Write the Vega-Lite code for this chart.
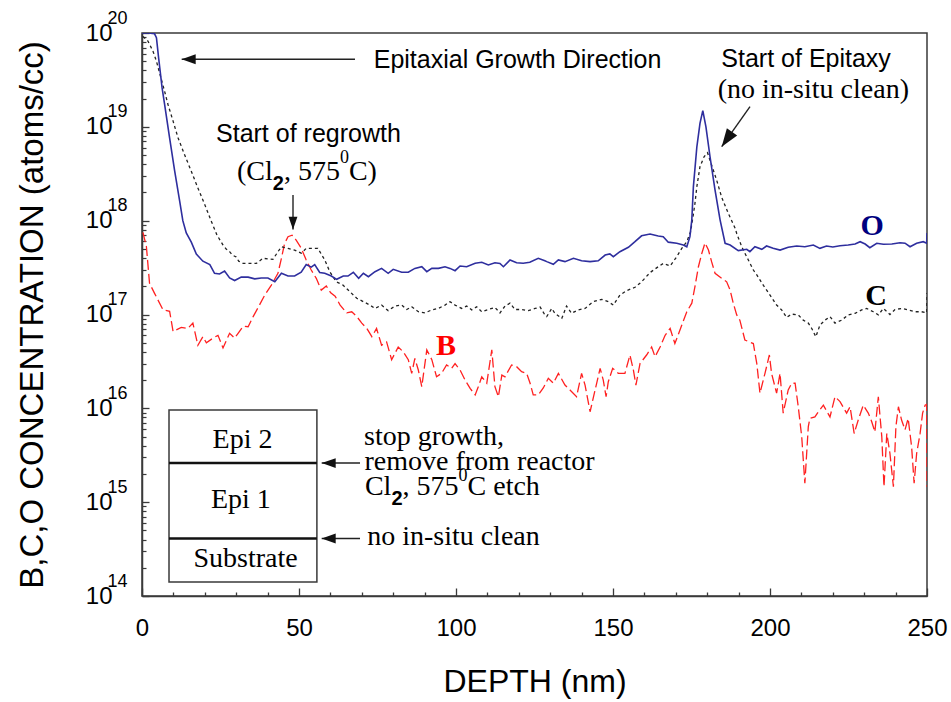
{
  "$schema": "https://vega.github.io/schema/vega-lite/v6.json",
  "width": 785,
  "height": 563,
  "autosize": {"type": "none"},
  "padding": {"left": 142, "top": 33, "right": 24, "bottom": 106},
  "background": "white",
  "config": {"view": {"stroke": "#3a3a3a", "strokeWidth": 1.5}, "font": "Liberation Sans"},
  "datasets": {
    "O": [
      {"depth":0,"conc":1e20},{"depth":2,"conc":1e20},{"depth":4,"conc":9.8e19},{"depth":4.6,"conc":8.9e19},{"depth":5.3,"conc":5.4e19},{"depth":6.4,"conc":2.6e19},{"depth":7.2,"conc":1.74e19},{"depth":8.8,"conc":7.6e18},{"depth":10.4,"conc":3.4e18},{"depth":12,"conc":1.62e18},{"depth":13,"conc":1.0e18},{"depth":14.1,"conc":7.4e17},{"depth":15.7,"conc":5.9e17},{"depth":17.3,"conc":4.4e17},{"depth":19.4,"conc":3.7e17},{"depth":21.6,"conc":3.4e17},{"depth":23.1,"conc":2.75e17},{"depth":24.7,"conc":2.7e17},{"depth":26.3,"conc":2.9e17},{"depth":27.9,"conc":2.45e17},{"depth":29.5,"conc":2.3e17},{"depth":31.6,"conc":2.5e17},{"depth":33.8,"conc":2.5e17},{"depth":35.9,"conc":2.4e17},{"depth":38,"conc":2.45e17},{"depth":40.1,"conc":2.45e17},{"depth":42.3,"conc":2.24e17},{"depth":44.4,"conc":2.75e17},{"depth":46.5,"conc":2.57e17},{"depth":48.6,"conc":2.57e17},{"depth":50.7,"conc":2.82e17},{"depth":52.3,"conc":3.4e17},{"depth":53.9,"conc":3.2e17},{"depth":55,"conc":3.4e17},{"depth":56.6,"conc":2.8e17},{"depth":58.2,"conc":2.75e17},{"depth":60.3,"conc":2.57e17},{"depth":62,"conc":2.37e17},{"depth":64.1,"conc":2.57e17},{"depth":65.6,"conc":2.57e17},{"depth":67.3,"conc":2.82e17},{"depth":69,"conc":2.43e17},{"depth":70.5,"conc":2.75e17},{"depth":72.1,"conc":2.53e17},{"depth":74.2,"conc":2.86e17},{"depth":76.3,"conc":3.1e17},{"depth":78.4,"conc":2.75e17},{"depth":80,"conc":3.03e17},{"depth":82.7,"conc":2.82e17},{"depth":84.8,"conc":2.82e17},{"depth":86.9,"conc":3.1e17},{"depth":89.1,"conc":3.23e17},{"depth":90.7,"conc":2.86e17},{"depth":92.3,"conc":3.1e17},{"depth":94.4,"conc":3.1e17},{"depth":96.5,"conc":3.23e17},{"depth":98.1,"conc":3.1e17},{"depth":99.7,"conc":2.93e17},{"depth":101.3,"conc":3.29e17},{"depth":103.4,"conc":3.23e17},{"depth":106.1,"conc":3.52e17},{"depth":108.2,"conc":3.6e17},{"depth":110.3,"conc":3.37e17},{"depth":112.4,"conc":3.56e17},{"depth":114,"conc":3.5e17},{"depth":115.1,"conc":3.23e17},{"depth":117.2,"conc":3.81e17},{"depth":119.3,"conc":3.56e17},{"depth":121.4,"conc":3.52e17},{"depth":123.5,"conc":3.6e17},{"depth":126.2,"conc":3.97e17},{"depth":128.3,"conc":3.74e17},{"depth":128.9,"conc":3.66e17},{"depth":131,"conc":3.43e17},{"depth":132.6,"conc":3.81e17},{"depth":134.7,"conc":3.66e17},{"depth":137.4,"conc":3.97e17},{"depth":140,"conc":3.74e17},{"depth":142.7,"conc":3.66e17},{"depth":145.3,"conc":3.74e17},{"depth":147.5,"conc":4.3e17},{"depth":149,"conc":4.42e17},{"depth":150.1,"conc":4.13e17},{"depth":152.2,"conc":4.67e17},{"depth":154.9,"conc":5.2e17},{"depth":157,"conc":5.97e17},{"depth":159.1,"conc":6.9e17},{"depth":161.8,"conc":7.2e17},{"depth":164.4,"conc":6.86e17},{"depth":166,"conc":6.75e17},{"depth":167.6,"conc":5.9e17},{"depth":170.3,"conc":5.74e17},{"depth":172.4,"conc":5.5e17},{"depth":173.5,"conc":5.27e17},{"depth":174.5,"conc":6.75e17},{"depth":175.1,"conc":1.02e18},{"depth":175.6,"conc":2.3e18},{"depth":176.7,"conc":6.1e18},{"depth":177.7,"conc":1.09e19},{"depth":178.6,"conc":1.49e19},{"depth":179.6,"conc":1.0e19},{"depth":180.9,"conc":4.8e18},{"depth":182.5,"conc":2.12e18},{"depth":184.1,"conc":1.02e18},{"depth":185.7,"conc":5.74e17},{"depth":187.3,"conc":5.5e17},{"depth":189.9,"conc":4.8e17},{"depth":192.6,"conc":4.95e17},{"depth":193.6,"conc":4.67e17},{"depth":195.2,"conc":5.27e17},{"depth":197.4,"conc":4.95e17},{"depth":198.9,"conc":5.37e17},{"depth":201,"conc":5.07e17},{"depth":203.2,"conc":4.86e17},{"depth":205.8,"conc":5.2e17},{"depth":208.5,"conc":5.37e17},{"depth":211.1,"conc":5.27e17},{"depth":213.8,"conc":5.5e17},{"depth":215.9,"conc":5.07e17},{"depth":218,"conc":5.37e17},{"depth":220,"conc":5.25e17},{"depth":222.3,"conc":5.4e17},{"depth":224.9,"conc":5.5e17},{"depth":227.1,"conc":5.64e17},{"depth":228.7,"conc":5.97e17},{"depth":230.3,"conc":5.64e17},{"depth":231.8,"conc":5.15e17},{"depth":234,"conc":5.74e17},{"depth":236.1,"conc":5.6e17},{"depth":238.8,"conc":5.64e17},{"depth":241.4,"conc":5.82e17},{"depth":243,"conc":5.75e17},{"depth":244.6,"conc":5.27e17},{"depth":246.7,"conc":5.74e17},{"depth":248.8,"conc":5.97e17},{"depth":249.9,"conc":5.74e17},{"depth":250,"conc":7.4e17}
    ],
    "C": [
      {"depth":0.3,"conc":9.2e19},{"depth":1.9,"conc":8.2e19},{"depth":3.5,"conc":6.4e19},{"depth":4.6,"conc":5.0e19},{"depth":5.6,"conc":3.75e19},{"depth":7.2,"conc":2.39e19},{"depth":8.3,"conc":1.72e19},{"depth":9.9,"conc":1.15e19},{"depth":11.5,"conc":7.6e18},{"depth":13.6,"conc":5.0e18},{"depth":15.7,"conc":3.36e18},{"depth":17.8,"conc":2.23e18},{"depth":20,"conc":1.48e18},{"depth":22.1,"conc":9.8e17},{"depth":23.9,"conc":7.0e17},{"depth":25.8,"conc":5.5e17},{"depth":26.8,"conc":5.0e17},{"depth":27.9,"conc":4.67e17},{"depth":28.8,"conc":4.3e17},{"depth":30,"conc":4.1e17},{"depth":30.8,"conc":3.7e17},{"depth":32.2,"conc":3.5e17},{"depth":34.8,"conc":3.5e17},{"depth":36.4,"conc":3.5e17},{"depth":38.5,"conc":3.97e17},{"depth":41.7,"conc":3.87e17},{"depth":43.3,"conc":4.67e17},{"depth":44.4,"conc":5.27e17},{"depth":46.5,"conc":5.07e17},{"depth":48.6,"conc":4.86e17},{"depth":50.7,"conc":4.5e17},{"depth":52.3,"conc":5.07e17},{"depth":54,"conc":5.07e17},{"depth":56,"conc":5.07e17},{"depth":58.2,"conc":3.81e17},{"depth":59.8,"conc":2.86e17},{"depth":61.9,"conc":2.23e17},{"depth":64,"conc":2.06e17},{"depth":66.2,"conc":1.75e17},{"depth":68.4,"conc":1.49e17},{"depth":70.5,"conc":1.37e17},{"depth":72.6,"conc":1.26e17},{"depth":74.2,"conc":1.16e17},{"depth":76.3,"conc":1.26e17},{"depth":78.4,"conc":1.1e17},{"depth":80.6,"conc":1.23e17},{"depth":82.7,"conc":1.26e17},{"depth":84.3,"conc":1.13e17},{"depth":85.9,"conc":1.21e17},{"depth":88,"conc":1.07e17},{"depth":90.1,"conc":1.04e17},{"depth":92.3,"conc":1.12e17},{"depth":94.4,"conc":1.16e17},{"depth":96.5,"conc":1.26e17},{"depth":98.1,"conc":1.37e17},{"depth":99.7,"conc":1.26e17},{"depth":101.8,"conc":1.16e17},{"depth":103.4,"conc":1.23e17},{"depth":105,"conc":1.12e17},{"depth":106.6,"conc":1.21e17},{"depth":108.2,"conc":1.07e17},{"depth":110.3,"conc":1.13e17},{"depth":112.4,"conc":1.19e17},{"depth":114,"conc":1.04e17},{"depth":115.6,"conc":1.23e17},{"depth":117.2,"conc":1.32e17},{"depth":118.8,"conc":1.13e17},{"depth":120.9,"conc":1.13e17},{"depth":123,"conc":1.1e17},{"depth":125.2,"conc":1.16e17},{"depth":126.8,"conc":1.2e17},{"depth":128.3,"conc":9.9e16},{"depth":128.9,"conc":9.5e16},{"depth":130.5,"conc":1.16e17},{"depth":131.5,"conc":1.03e17},{"depth":133.7,"conc":9.1e16},{"depth":135.2,"conc":1.23e17},{"depth":136.8,"conc":1.03e17},{"depth":138.9,"conc":1.12e17},{"depth":141.1,"conc":1.16e17},{"depth":143.7,"conc":1.37e17},{"depth":146.4,"conc":1.45e17},{"depth":148.5,"conc":1.37e17},{"depth":150.1,"conc":1.26e17},{"depth":152.2,"conc":1.61e17},{"depth":154.4,"conc":1.8e17},{"depth":157,"conc":1.95e17},{"depth":159.1,"conc":2.23e17},{"depth":161.8,"conc":2.8e17},{"depth":164.4,"conc":3.23e17},{"depth":166,"conc":3.5e17},{"depth":168.2,"conc":3.29e17},{"depth":170.3,"conc":4.13e17},{"depth":171.9,"conc":5.07e17},{"depth":173.5,"conc":5.97e17},{"depth":174.7,"conc":7.6e17},{"depth":175.6,"conc":1.17e18},{"depth":176.1,"conc":1.53e18},{"depth":176.7,"conc":2.3e18},{"depth":177.7,"conc":3.76e18},{"depth":179,"conc":4.8e18},{"depth":180.1,"conc":5.3e18},{"depth":181.4,"conc":3.92e18},{"depth":183,"conc":2.71e18},{"depth":184.6,"conc":1.78e18},{"depth":186.7,"conc":1.2e18},{"depth":188.9,"conc":8.3e17},{"depth":189.4,"conc":7.3e17},{"depth":191,"conc":5.27e17},{"depth":192,"conc":4.5e17},{"depth":193.1,"conc":3.81e17},{"depth":194.7,"conc":2.98e17},{"depth":195.8,"conc":2.64e17},{"depth":197.9,"conc":2.04e17},{"depth":200,"conc":1.61e17},{"depth":202.1,"conc":1.26e17},{"depth":203.7,"conc":1.12e17},{"depth":205.3,"conc":9.3e16},{"depth":206.9,"conc":1.01e17},{"depth":209,"conc":9.9e16},{"depth":210.6,"conc":8.7e16},{"depth":212.2,"conc":8.1e16},{"depth":213.3,"conc":7.1e16},{"depth":214.6,"conc":5.8e16},{"depth":215.9,"conc":7.7e16},{"depth":217.5,"conc":8.7e16},{"depth":219.1,"conc":9.5e16},{"depth":220.7,"conc":8.1e16},{"depth":222.8,"conc":8.7e16},{"depth":224.9,"conc":9.9e16},{"depth":227.1,"conc":1.03e17},{"depth":229.2,"conc":1.12e17},{"depth":230.8,"conc":1.16e17},{"depth":232.9,"conc":1.07e17},{"depth":234.5,"conc":9.9e16},{"depth":236.1,"conc":1.16e17},{"depth":238.2,"conc":1.0e17},{"depth":239.8,"conc":1.13e17},{"depth":241.9,"conc":1.16e17},{"depth":244,"conc":1.12e17},{"depth":246.2,"conc":1.07e17},{"depth":248.3,"conc":1.07e17},{"depth":249.9,"conc":1.04e17},{"depth":250,"conc":1.69e17}
    ],
    "B": [
      {"depth":0.3,"conc":7.5e17},{"depth":1.4,"conc":5.3e17},{"depth":2.4,"conc":2.15e17},{"depth":4,"conc":1.68e17},{"depth":6.7,"conc":1.12e17},{"depth":8.8,"conc":1.08e17},{"depth":9.9,"conc":6.6e16},{"depth":12.5,"conc":7.3e16},{"depth":14.6,"conc":7.1e16},{"depth":16.2,"conc":8.1e16},{"depth":16.8,"conc":6.6e16},{"depth":17.8,"conc":4.7e16},{"depth":19.4,"conc":5.8e16},{"depth":20.5,"conc":5.0e16},{"depth":22.6,"conc":5.6e16},{"depth":24.2,"conc":6.0e16},{"depth":25.8,"conc":4.4e16},{"depth":27.9,"conc":6.3e16},{"depth":29.5,"conc":5.6e16},{"depth":30.6,"conc":6.3e16},{"depth":32.2,"conc":7.5e16},{"depth":33.8,"conc":7.4e16},{"depth":35.4,"conc":9.5e16},{"depth":37,"conc":1.19e17},{"depth":39.1,"conc":1.61e17},{"depth":41.2,"conc":2.06e17},{"depth":43.3,"conc":2.75e17},{"depth":44.4,"conc":3.97e17},{"depth":45.4,"conc":5.7e17},{"depth":46.5,"conc":6.75e17},{"depth":47.8,"conc":7.0e17},{"depth":49.1,"conc":6.2e17},{"depth":50.7,"conc":5.1e17},{"depth":52.3,"conc":3.8e17},{"depth":53.9,"conc":2.98e17},{"depth":55.5,"conc":2.43e17},{"depth":57.1,"conc":1.82e17},{"depth":58.7,"conc":2.01e17},{"depth":60.1,"conc":1.7e17},{"depth":61.5,"conc":1.57e17},{"depth":63.1,"conc":1.26e17},{"depth":65.2,"conc":1.04e17},{"depth":66.8,"conc":1.07e17},{"depth":68.4,"conc":9.5e16},{"depth":70,"conc":8.1e16},{"depth":71.6,"conc":7.1e16},{"depth":73.2,"conc":5.8e16},{"depth":74.7,"conc":7.1e16},{"depth":76.3,"conc":4.7e16},{"depth":77.9,"conc":5.1e16},{"depth":79.5,"conc":3.3e16},{"depth":81.6,"conc":4.5e16},{"depth":83.2,"conc":4.0e16},{"depth":84.8,"conc":3.3e16},{"depth":85.9,"conc":2.36e16},{"depth":86.9,"conc":3.4e16},{"depth":88,"conc":2.56e16},{"depth":89.1,"conc":1.7e16},{"depth":90.7,"conc":4.2e16},{"depth":92.3,"conc":3.3e16},{"depth":93.8,"conc":2.17e16},{"depth":95.4,"conc":2.36e16},{"depth":97,"conc":2.9e16},{"depth":98.6,"conc":2.67e16},{"depth":99.7,"conc":3.0e16},{"depth":101.3,"conc":2.56e16},{"depth":102.9,"conc":2.0e16},{"depth":104.5,"conc":1.63e16},{"depth":106.1,"conc":1.39e16},{"depth":107.1,"conc":1.7e16},{"depth":108.2,"conc":2.17e16},{"depth":109.8,"conc":1.85e16},{"depth":111.4,"conc":4.2e16},{"depth":112.4,"conc":1.7e16},{"depth":113.5,"conc":1.33e16},{"depth":114.6,"conc":2.26e16},{"depth":115.6,"conc":2.17e16},{"depth":117.7,"conc":2.9e16},{"depth":119.3,"conc":2.78e16},{"depth":120.9,"conc":2.46e16},{"depth":122.5,"conc":2.36e16},{"depth":123.6,"conc":1.85e16},{"depth":124.6,"conc":1.39e16},{"depth":126.2,"conc":1.39e16},{"depth":127.8,"conc":1.65e16},{"depth":129.4,"conc":2.09e16},{"depth":131,"conc":1.85e16},{"depth":132.6,"conc":2.36e16},{"depth":134.7,"conc":1.77e16},{"depth":136.3,"conc":1.57e16},{"depth":138.4,"conc":1.33e16},{"depth":140,"conc":2.36e16},{"depth":141.1,"conc":1.77e16},{"depth":142.7,"conc":9.2e15},{"depth":144.3,"conc":1.57e16},{"depth":145.9,"conc":2.67e16},{"depth":146.9,"conc":2.0e16},{"depth":147.8,"conc":1.33e16},{"depth":148.5,"conc":1.92e16},{"depth":149.9,"conc":2.67e16},{"depth":151.7,"conc":2.36e16},{"depth":153.8,"conc":2.36e16},{"depth":155.4,"conc":3.7e16},{"depth":156.5,"conc":2.56e16},{"depth":157.3,"conc":1.77e16},{"depth":158.6,"conc":3.0e16},{"depth":160.7,"conc":3.7e16},{"depth":162.3,"conc":4.5e16},{"depth":163.4,"conc":3.55e16},{"depth":165,"conc":4.5e16},{"depth":166.6,"conc":6.0e16},{"depth":168.2,"conc":7.1e16},{"depth":169.7,"conc":4.9e16},{"depth":171.3,"conc":6.8e16},{"depth":173.5,"conc":1.07e17},{"depth":175.1,"conc":1.32e17},{"depth":176.1,"conc":1.98e17},{"depth":177.2,"conc":3.23e17},{"depth":178.3,"conc":4.5e17},{"depth":179.3,"conc":5.8e17},{"depth":180.4,"conc":4.86e17},{"depth":181.4,"conc":3.66e17},{"depth":182.5,"conc":2.75e17},{"depth":184.6,"conc":2.43e17},{"depth":186.2,"conc":2.23e17},{"depth":187.3,"conc":1.82e17},{"depth":188.3,"conc":1.32e17},{"depth":189.4,"conc":9.9e16},{"depth":190.4,"conc":8.7e16},{"depth":192,"conc":5.35e16},{"depth":194.7,"conc":4.9e16},{"depth":195.8,"conc":3.0e16},{"depth":196.8,"conc":1.45e16},{"depth":198.4,"conc":2.36e16},{"depth":199.8,"conc":3.7e16},{"depth":200.5,"conc":2.36e16},{"depth":202.1,"conc":1.45e16},{"depth":203.2,"conc":2.36e16},{"depth":204.2,"conc":8.9e15},{"depth":205.8,"conc":1.57e16},{"depth":206.9,"conc":1.85e16},{"depth":208,"conc":1.85e16},{"depth":209,"conc":1.04e16},{"depth":210.1,"conc":5.0e15},{"depth":211.1,"conc":1.59e15},{"depth":212.2,"conc":6.4e15},{"depth":212.7,"conc":7.8e15},{"depth":214.3,"conc":8.1e15},{"depth":215.4,"conc":9.2e15},{"depth":217,"conc":1.08e16},{"depth":219.1,"conc":8.1e15},{"depth":220.7,"conc":1.33e16},{"depth":222.3,"conc":1.18e16},{"depth":224.4,"conc":8.9e15},{"depth":225.5,"conc":1.04e16},{"depth":226.8,"conc":5.4e15},{"depth":228.1,"conc":7.5e15},{"depth":229.7,"conc":1.08e16},{"depth":231.3,"conc":8.9e15},{"depth":232.4,"conc":7.2e15},{"depth":233.4,"conc":5.6e15},{"depth":234.5,"conc":1.33e16},{"depth":235.6,"conc":5.0e15},{"depth":236.3,"conc":1.46e15},{"depth":237.2,"conc":5.4e15},{"depth":238.2,"conc":3.3e15},{"depth":239.3,"conc":1.46e15},{"depth":240.1,"conc":6.4e15},{"depth":240.9,"conc":1.04e16},{"depth":241.9,"conc":7.5e15},{"depth":243,"conc":5.9e15},{"depth":244,"conc":7.8e15},{"depth":245.1,"conc":3.9e15},{"depth":245.9,"conc":1.59e15},{"depth":246.7,"conc":3.3e15},{"depth":247.8,"conc":5.4e15},{"depth":248.6,"conc":8.9e15},{"depth":249.4,"conc":1.08e16},{"depth":249.9,"conc":1.1e16},{"depth":250,"conc":1.46e15}
    ],
    "layerBox": [{"depth": 8.6, "depth2": 55.7, "conc": 1.41e14, "conc2": 9.6e15}],
    "layerLines": [
      {"depth": 8.6, "depth2": 55.7, "conc": 2.61e15},
      {"depth": 8.6, "depth2": 55.7, "conc": 4.1e14}
    ],
    "shafts": [
      {"depth": 67.83, "depth2": 12.64, "conc": 5.25e19, "conc2": 5.25e19},
      {"depth": 48.09, "depth2": 48.09, "conc": 1.88e18, "conc2": 8.06e17},
      {"depth": 193.63, "depth2": 184.62, "conc": 1.64e19, "conc2": 6.14e18},
      {"depth": 69.43, "depth2": 57.23, "conc": 2.61e15, "conc2": 2.61e15},
      {"depth": 69.43, "depth2": 57.23, "conc": 4.1e14, "conc2": 4.1e14}
    ],
    "headsLeft": [
      {"depth": 12.64, "conc": 5.25e19},
      {"depth": 57.23, "conc": 2.61e15},
      {"depth": 57.23, "conc": 4.1e14}
    ],
    "headsDown": [{"depth": 48.09, "conc": 8.06e17}],
    "headsDiagonal": [{"depth": 184.62, "conc": 6.14e18}],
    "sansNotes": [
      {"text": "Epitaxial Growth Direction", "depth": 119.6, "conc": 4.2e19},
      {"text": "Start of Epitaxy", "depth": 211.5, "conc": 4.38e19},
      {"text": "Start of regrowth", "depth": 53.0, "conc": 6.89e18}
    ],
    "serifNotes": [
      {"text": "(no in-situ clean)", "depth": 213.8, "conc": 2.01e19},
      {"text": "Epi 2", "depth": 32.0, "conc": 3.75e15},
      {"text": "Epi 1", "depth": 31.5, "conc": 8.6e14},
      {"text": "Substrate", "depth": 33.0, "conc": 2.05e14},
      {"text": "stop growth,", "depth": 93.0, "conc": 4.1e15},
      {"text": "remove from reactor", "depth": 107.5, "conc": 2.2e15}
    ],
    "serifPieces": [
      {"text": "(Cl", "depth": 30.25, "conc": 2.71e18},
      {"text": ", 575", "depth": 45.19, "conc": 2.71e18},
      {"text": "C)", "depth": 65.89, "conc": 2.71e18},
      {"text": "Cl", "depth": 71.0, "conc": 1.18e15},
      {"text": ", 575", "depth": 82.97, "conc": 1.18e15},
      {"text": "C etch", "depth": 103.67, "conc": 1.18e15},
      {"text": "no in-situ clean", "depth": 71.7, "conc": 3.49e14}
    ],
    "subscripts": [
      {"text": "2", "depth": 41.66, "conc": 2.12e18},
      {"text": "2", "depth": 79.44, "conc": 9.3e14}
    ],
    "superscripts": [
      {"text": "0", "depth": 63.03, "conc": 4.12e18},
      {"text": "0", "depth": 100.81, "conc": 1.68e15}
    ],
    "seriesLabels": [
      {"text": "O", "depth": 232.5, "conc": 7.03e17},
      {"text": "C", "depth": 233.8, "conc": 1.26e17},
      {"text": "B", "depth": 96.8, "conc": 3.7e16}
    ]
  },
  "encoding": {
    "x": {"field": "depth", "type": "quantitative", "scale": {"domain": [0, 250], "nice": false, "zero": false}, "axis": null},
    "y": {"field": "conc", "type": "quantitative", "scale": {"type": "log", "domain": [1e14, 1e20], "nice": false}, "axis": null}
  },
  "layer": [
    {
      "data": {"name": "B"},
      "mark": {"type": "line", "color": "#ff2020", "strokeWidth": 1.3, "strokeDash": [10, 4], "clip": true},
      "encoding": {
        "x": {
          "field": "depth", "type": "quantitative",
          "scale": {"domain": [0, 250], "nice": false, "zero": false},
          "axis": {
            "orient": "bottom",
            "title": "DEPTH (nm)",
            "values": [0, 50, 100, 150, 200, 250],
            "format": "d",
            "tickSize": -8, "tickColor": "#3a3a3a", "tickWidth": 1.3,
            "domainColor": "#3a3a3a", "domainWidth": 1.5,
            "labelFont": "Liberation Sans", "labelFontSize": 24, "labelColor": "#000",
            "labelPadding": 28, "labelFlush": false, "labelOverlap": false,
            "titleFont": "Liberation Sans", "titleFontSize": 32, "titleFontWeight": "normal", "titleColor": "#000",
            "titlePadding": 26, "grid": false
          }
        },
        "y": {
          "field": "conc", "type": "quantitative",
          "scale": {"type": "log", "domain": [1e14, 1e20], "nice": false},
          "axis": {
            "orient": "left",
            "title": "B,C,O CONCENTRATION (atoms/cc)",
            "values": [1e14, 1e15, 1e16, 1e17, 1e18, 1e19, 1e20],
            "labelExpr": "'10'",
            "tickSize": -7, "tickColor": "#3a3a3a", "tickWidth": 1.3,
            "domainColor": "#3a3a3a", "domainWidth": 1.5,
            "labelFont": "Liberation Sans", "labelFontSize": 24, "labelColor": "#000",
            "labelPadding": 37, "labelOverlap": false,
            "titleFont": "Liberation Sans", "titleFontSize": 33, "titleFontWeight": "normal", "titleColor": "#000",
            "titlePadding": 36, "grid": false
          }
        }
      }
    },
    {
      "data": {"name": "C"},
      "mark": {"type": "line", "color": "#222222", "strokeWidth": 1.3, "strokeDash": [3, 3], "clip": true},
      "encoding": {
        "x": {
          "field": "depth", "type": "quantitative",
          "scale": {"domain": [0, 250], "nice": false, "zero": false},
          "axis": {
            "orient": "bottom", "title": null,
            "values": [10,20,30,40,60,70,80,90,110,120,130,140,160,170,180,190,210,220,230,240],
            "labels": false, "domain": false, "grid": false,
            "tickSize": -4, "tickColor": "#3a3a3a", "tickWidth": 1.3
          }
        },
        "y": {
          "field": "conc", "type": "quantitative",
          "scale": {"type": "log", "domain": [1e14, 1e20], "nice": false},
          "axis": {
            "orient": "left", "title": null,
            "values": [2e14,3e14,4e14,5e14,6e14,7e14,8e14,9e14,2e15,3e15,4e15,5e15,6e15,7e15,8e15,9e15,2e16,3e16,4e16,5e16,6e16,7e16,8e16,9e16,2e17,3e17,4e17,5e17,6e17,7e17,8e17,9e17,2e18,3e18,4e18,5e18,6e18,7e18,8e18,9e18,2e19,3e19,4e19,5e19,6e19,7e19,8e19,9e19],
            "labels": false, "domain": false, "grid": false,
            "tickSize": -4, "tickColor": "#3a3a3a", "tickWidth": 1.2
          }
        }
      }
    },
    {
      "data": {"name": "O"},
      "mark": {"type": "line", "color": "#2e2e9e", "strokeWidth": 1.6, "clip": true}
    },
    {
      "data": {"name": "layerBox"},
      "mark": {"type": "rect", "fill": "white", "fillOpacity": 0, "stroke": "#3a3a3a", "strokeWidth": 1.5},
      "encoding": {
        "x2": {"field": "depth2"},
        "y": {
          "field": "conc", "type": "quantitative",
          "scale": {"type": "log", "domain": [1e14, 1e20], "nice": false},
          "axis": {
            "orient": "left", "title": null,
            "values": [1e14, 1e15, 1e16, 1e17, 1e18, 1e19, 1e20],
            "labelExpr": "'' + round(log(datum.value)/LN10)",
            "ticks": false, "domain": false, "grid": false,
            "labelAlign": "left", "labelBaseline": "alphabetic",
            "labelPadding": 35, "labelOffset": -10,
            "labelFont": "Liberation Sans", "labelFontSize": 18, "labelColor": "#000",
            "labelOverlap": false
          }
        },
        "y2": {"field": "conc2"}
      }
    },
    {
      "data": {"name": "layerLines"},
      "mark": {"type": "rule", "color": "#111111", "strokeWidth": 2.6},
      "encoding": {"x2": {"field": "depth2"}}
    },
    {
      "data": {"name": "shafts"},
      "mark": {"type": "rule", "color": "#222222", "strokeWidth": 1.4},
      "encoding": {"x2": {"field": "depth2"}, "y2": {"field": "conc2"}}
    },
    {
      "data": {"name": "headsLeft"},
      "mark": {"type": "point", "shape": "M0,0L2,-0.7L2,0.7Z", "filled": true, "color": "#111111", "size": 196, "opacity": 1}
    },
    {
      "data": {"name": "headsDown"},
      "mark": {"type": "point", "shape": "M0,0L2,-0.7L2,0.7Z", "filled": true, "color": "#111111", "size": 160, "angle": 270, "opacity": 1}
    },
    {
      "data": {"name": "headsDiagonal"},
      "mark": {"type": "point", "shape": "M0,0L2,-0.7L2,0.7Z", "filled": true, "color": "#111111", "size": 324, "angle": 305, "opacity": 1}
    },
    {
      "data": {"name": "sansNotes"},
      "mark": {"type": "text", "font": "Liberation Sans", "fontSize": 25, "color": "#000", "align": "center", "baseline": "alphabetic"},
      "encoding": {"text": {"field": "text"}}
    },
    {
      "data": {"name": "serifNotes"},
      "mark": {"type": "text", "font": "Liberation Serif", "fontSize": 28, "color": "#000", "align": "center", "baseline": "alphabetic"},
      "encoding": {"text": {"field": "text"}}
    },
    {
      "data": {"name": "serifPieces"},
      "mark": {"type": "text", "font": "Liberation Serif", "fontSize": 28, "color": "#000", "align": "left", "baseline": "alphabetic"},
      "encoding": {"text": {"field": "text"}}
    },
    {
      "data": {"name": "subscripts"},
      "mark": {"type": "text", "font": "Liberation Sans", "fontSize": 20, "fontWeight": "bold", "color": "#000", "align": "left", "baseline": "alphabetic"},
      "encoding": {"text": {"field": "text"}}
    },
    {
      "data": {"name": "superscripts"},
      "mark": {"type": "text", "font": "Liberation Serif", "fontSize": 18, "color": "#000", "align": "left", "baseline": "alphabetic"},
      "encoding": {"text": {"field": "text"}}
    },
    {
      "data": {"name": "seriesLabels"},
      "mark": {"type": "text", "font": "Liberation Serif", "fontSize": 30, "fontWeight": "bold", "align": "center", "baseline": "alphabetic"},
      "encoding": {
        "text": {"field": "text"},
        "color": {"field": "text", "type": "nominal", "scale": {"domain": ["O", "C", "B"], "range": ["#00007f", "#000000", "#ff0000"]}, "legend": null}
      }
    }
  ],
  "resolve": {"axis": {"x": "independent", "y": "independent"}}
}
